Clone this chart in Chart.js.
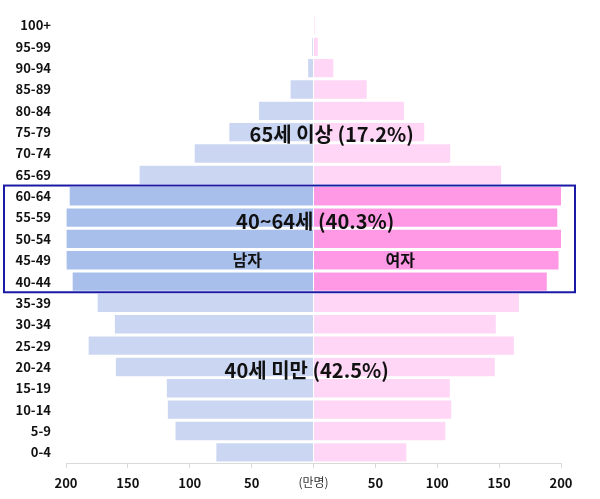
<!DOCTYPE html>
<html>
<head>
<meta charset="utf-8">
<script src="https://cdn.jsdelivr.net/npm/chart.js@4"></script>
<style>
html,body{margin:0;padding:0;background:#fff;}
#wrap{width:600px;height:499px;position:relative;}
</style>
</head>
<body>
<div id="wrap"><canvas id="c" width="600" height="499"></canvas></div>
<script>
const ageGroups = ['100+','95-99','90-94','85-89','80-84','75-79','70-74','65-69','60-64','55-59','50-54','45-49','40-44','35-39','30-34','25-29','20-24','15-19','10-14','5-9','0-4'];
const maleValues = [0.4, 1, 4.3, 18.5, 44, 68, 96, 140.5, 197, 199.5, 199.5, 199.5, 194.6, 174.4, 160.5, 181.7, 159.7, 118.5, 117.7, 111.5, 78.5];
const femaleValues = [0.8, 3.5, 16, 43, 73, 89.5, 110.5, 151.6, 200.3, 197, 200.3, 198, 188.5, 166, 147.3, 161.9, 146.5, 110.2, 111.3, 106.5, 75];
const xTicks = [-200, -150, -100, -50, 0, 50, 100, 150, 200];
const unitLabel = '(만명)';
const annotations = [
  {text: '65세 이상 (17.2%)', row: '75-79', x: 14.7, dy: 0.12, size: 20},
  {text: '40~64세 (40.3%)', row: '55-59', x: 1.4, dy: 0.2, size: 20},
  {text: '남자', row: '45-49', x: -53.5, dy: 0, size: 16},
  {text: '여자', row: '45-49', x: 70, dy: 0, size: 16},
  {text: '40세 미만 (42.5%)', row: '20-24', x: -5.5, dy: 0.15, size: 20}
];
const highlightRows = ['60-64','55-59','50-54','45-49','40-44'];

const maleColors = ageGroups.map(a => highlightRows.includes(a) ? '#a8bfeb' : '#cad6f2');
const femaleColors = ageGroups.map(a => highlightRows.includes(a) ? '#ff99e5' : '#ffd6f5');

const FONT = "'Noto Sans CJK KR', 'Noto Sans', sans-serif";

const overlay = {
  id: 'overlay',
  afterDatasetsDraw(chart) {
    const ctx = chart.ctx;
    const y = chart.scales.y, x = chart.scales.x;
    const step = (y.getPixelForValue(1) - y.getPixelForValue(0));
    const top = y.getPixelForValue(ageGroups.indexOf(highlightRows[0])) - step / 2;
    const bot = y.getPixelForValue(ageGroups.indexOf(highlightRows[highlightRows.length - 1])) + step / 2;
    ctx.save();
    ctx.strokeStyle = '#1a1aa6';
    ctx.lineWidth = 2;
    ctx.strokeRect(4, top, 571, bot - top);
    ctx.restore();
    ctx.save();
    ctx.fillStyle = '#111';
    ctx.textAlign = 'center';
    ctx.textBaseline = 'middle';
    annotations.forEach(a => {
      ctx.font = `bold ${a.size}px ${FONT}`;
      ctx.fillText(a.text, x.getPixelForValue(a.x), y.getPixelForValue(ageGroups.indexOf(a.row)) + step * a.dy);
    });
    ctx.restore();
  }
};

new Chart(document.getElementById('c'), {
  type: 'bar',
  data: {
    labels: ageGroups,
    datasets: [
      {label: '남자', data: maleValues.map(v => -v), backgroundColor: maleColors, borderWidth: 0, barPercentage: 0.86, categoryPercentage: 1},
      {label: '여자', data: femaleValues, backgroundColor: femaleColors, borderWidth: 0, barPercentage: 0.86, categoryPercentage: 1}
    ]
  },
  options: {
    indexAxis: 'y',
    responsive: false,
    animation: false,
    layout: {padding: {top: 8, right: 39, bottom: 0, left: 0}},
    plugins: {legend: {display: false}, tooltip: {enabled: false}},
    scales: {
      x: {
        stacked: true,
        min: -200, max: 200,
        afterBuildTicks: s => { s.ticks = xTicks.map(v => ({value: v})); },
        afterFit: s => { s.height = 36; },
        grid: {display: true, drawOnChartArea: false, drawTicks: true, tickLength: 5, color: '#d9d9d9'},
        border: {display: true, color: '#d9d9d9'},
        ticks: {
          padding: 7,
          color: ctx => ctx.tick && ctx.tick.value === 0 ? '#333' : '#111',
          font: ctx => ctx.tick && ctx.tick.value === 0 ? {family: FONT, size: 12, weight: 'normal'} : {family: FONT, size: 13, weight: 'bold'},
          callback: v => v === 0 ? unitLabel : String(Math.abs(v))
        }
      },
      y: {
        stacked: true,
        afterFit: s => { s.width = 66; },
        grid: {display: false},
        border: {display: false},
        ticks: {padding: 7, color: '#111', font: {family: FONT, size: 13, weight: 'bold'}}
      }
    }
  },
  plugins: [overlay]
});
</script>
</body>
</html>
